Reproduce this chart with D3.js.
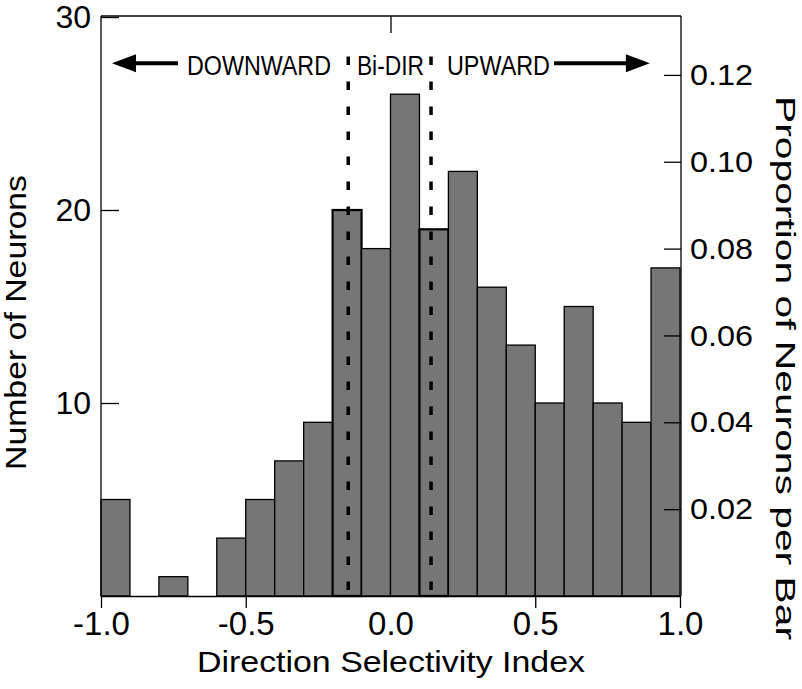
<!DOCTYPE html>
<html><head><meta charset="utf-8">
<script src="https://cdn.jsdelivr.net/npm/d3@7"></script>
<style>
body{margin:0;background:#fff}
svg text{font-family:"Liberation Sans",Arial,sans-serif;fill:#000}
</style>
</head><body>
<svg id="c" width="802" height="689"></svg>
<script>
// ---- data ----
const binStarts = [-1.0,-0.9,-0.8,-0.7,-0.6,-0.5,-0.4,-0.3,-0.2,-0.1,0.0,0.1,0.2,0.3,0.4,0.5,0.6,0.7,0.8,0.9];
const counts    = [5,0,1,0,3,5,7,9,20,18,26,19,22,16,13,10,15,10,9,17];
const binWidth = 0.1;
const leftTicks = [10,20,30];
const rightTicks = [0.02,0.04,0.06,0.08,0.10,0.12];
const bottomLabels = [-1.0,-0.5,0.0,0.5,1.0];
const bottomTickless = [0.0];
const topTicks = [0.0];
const boundaries = [-0.146, 0.14];
const regionLabels = ["DOWNWARD","Bi-DIR","UPWARD"];
const regionSpans = [[-0.703,-0.2055],[-0.116,0.116],[0.195,0.551]];
const arrowLeft = [-0.734,-0.962];   // tail, tip
const arrowRight = [0.565,0.896];
const xTitle = "Direction Selectivity Index";
const yTitle = "Number of Neurons";
const y2Title = "Proportion of Neurons per Bar";

// ---- layout ----
const L=101, R=681, T=16, B=596;
const total = d3.sum(counts);
const svg = d3.select("#c");
const x = d3.scaleLinear().domain([-1,1]).range([L,680]);
const y = d3.scaleLinear().domain([0,30]).range([B,T+1]);
const y2 = d3.scaleLinear().domain([0,30/total]).range([B,T+1]);

// bars
const bins = binStarts.map((s,i)=>({s, c:counts[i]})).filter(d=>d.c>0);
svg.append("g").selectAll("rect").data(bins).join("rect")
  .attr("x",d=>x(d.s)).attr("width",d=>x(d.s+binWidth)-x(d.s))
  .attr("y",d=>y(d.c)).attr("height",d=>y(0)-y(d.c))
  .attr("fill","#767676").attr("stroke","#000")
  .attr("stroke-width",d=>boundaries.some(b=>b>d.s&&b<d.s+binWidth)?2.2:1.3);

// dashed boundaries
svg.append("g").selectAll("line").data(boundaries).join("line")
  .attr("x1",d=>x(d)).attr("x2",d=>x(d)).attr("y1",y(27.95)).attr("y2",B)
  .attr("stroke","#000").attr("stroke-width",3.5).attr("stroke-dasharray","8.5,16.5");

// axes
function styleAxis(g,fs){
  g.selectAll(".domain").attr("stroke","#000").attr("stroke-width",1.3);
  g.selectAll(".tick line").attr("stroke","#000").attr("stroke-width",1.3);
  g.selectAll("text").attr("font-size",fs).attr("font-family","Liberation Sans, Arial, sans-serif").attr("fill","#000");
}
function stretch(sel,f){
  sel.each(function(){
    const w=this.getComputedTextLength();
    if(w>0) d3.select(this).attr("textLength",w*f).attr("lengthAdjust","spacingAndGlyphs");
  });
}
const gl = svg.append("g").attr("transform",`translate(${L},0)`)
  .call(d3.axisLeft(y).tickValues(leftTicks).tickSizeInner(-18).tickSizeOuter(0).tickPadding(10).tickFormat(d3.format("d")));
styleAxis(gl,32);
const gr = svg.append("g").attr("transform",`translate(${R},0)`)
  .call(d3.axisRight(y2).tickValues(rightTicks).tickSizeInner(-17).tickSizeOuter(0).tickPadding(9).tickFormat(d=>d.toFixed(2)));
styleAxis(gr,30);
stretch(gr.selectAll(".tick text"),1.08);
const gb = svg.append("g").attr("transform",`translate(0,${B})`)
  .call(d3.axisBottom(x).tickValues(bottomLabels).tickSizeInner(12).tickSizeOuter(0).tickPadding(4).tickFormat(d=>d.toFixed(1)));
styleAxis(gb,33);
gb.selectAll(".tick").filter(d=>bottomTickless.includes(d)).select("line").remove();
gb.select(".domain").attr("d",`M${L},0.5H${R}`);
const gt = svg.append("g").attr("transform",`translate(0,${T})`)
  .call(d3.axisTop(x).tickValues(topTicks).tickSizeInner(-17).tickSizeOuter(0).tickFormat(""));
styleAxis(gt,28);
gt.select(".domain").attr("d",`M${L},0H${R}`);
gl.select(".domain").attr("d",`M0,${T}V${B}`);
gr.select(".domain").attr("d",`M0,${T}V${B}`);

// region labels
const ann = svg.append("g");
regionLabels.forEach((t,i)=>{
  const [a,b]=regionSpans[i];
  ann.append("text").text(t)
    .attr("x",x(a)).attr("y",y(27.0))
    .attr("font-family","'Open Sans',sans-serif").attr("font-size",27)
    .attr("textLength",x(b)-x(a)).attr("lengthAdjust","spacingAndGlyphs");
});
// arrows
function arrow(tail,tip){
  const yy=y(27.6), dir=Math.sign(tip-tail);
  const baseX = x(tip)-dir*24;
  ann.append("line").attr("x1",x(tail)).attr("x2",baseX+dir*2).attr("y1",yy).attr("y2",yy)
    .attr("stroke","#000").attr("stroke-width",4);
  ann.append("path").attr("d",`M${x(tip)},${yy}L${baseX},${yy-9}L${baseX},${yy+9}Z`).attr("fill","#000");
}
arrow(arrowLeft[0],arrowLeft[1]);
arrow(arrowRight[0],arrowRight[1]);

// titles
svg.append("text").text(xTitle).attr("x",197).attr("y",672)
  .attr("font-size",29).attr("textLength",388).attr("lengthAdjust","spacingAndGlyphs");
svg.append("text").text(yTitle).attr("transform","translate(25.5,470) rotate(-90)")
  .attr("font-size",30).attr("textLength",295).attr("lengthAdjust","spacingAndGlyphs");
svg.append("text").text(y2Title).attr("transform","translate(776,96) rotate(90)")
  .attr("font-size",27).attr("textLength",544).attr("lengthAdjust","spacingAndGlyphs");
</script>
</body></html>
